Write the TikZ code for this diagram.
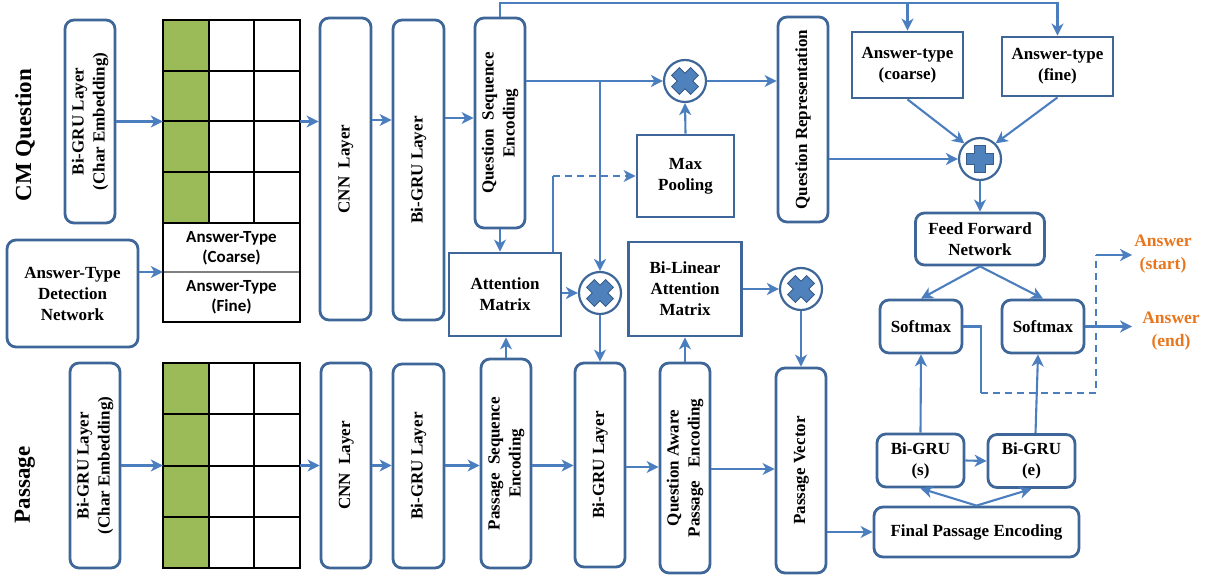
\documentclass[tikz,border=0pt]{standalone}
\usepackage{fontspec}
\setmainfont{Liberation Serif}
\newfontfamily\calib{Carlito}
\usetikzlibrary{arrows.meta,calc}
\definecolor{bcol}{RGB}{62,102,152}
\definecolor{lcol}{RGB}{74,126,190}
\definecolor{symf}{RGB}{79,129,189}
\definecolor{symd}{RGB}{56,93,138}
\definecolor{gfill}{RGB}{155,187,89}
\definecolor{ocol}{RGB}{232,118,30}
\newcommand{\vtext}[1]{\rotatebox{90}{\begin{tabular}{@{}c@{}}#1\end{tabular}}}
\begin{document}
\begin{tikzpicture}[x=1pt,y=-1pt,
  rbox/.style={draw=bcol, line width=2.8pt, rounded corners=9pt, fill=white, inner sep=1pt, align=center, font=\fontsize{17}{21}\selectfont\bfseries},
  sbox/.style={rbox, sharp corners},
  opc/.style={circle, draw=bcol, line width=2.2pt, fill=white, minimum size=42pt, inner sep=0pt},
  arr/.style={draw=lcol, line width=2.1pt, -{Stealth[length=12pt,width=12pt,inset=3.5pt]}},
  ln/.style={draw=lcol, line width=2.1pt},
  gridln/.style={draw=black, line width=1.2pt},
  gtext/.style={font=\calib\bfseries\fontsize{17}{20}\selectfont, align=center, inner sep=0pt},
  lab/.style={font=\fontsize{23}{26}\selectfont\bfseries, rotate=90},
  otext/.style={font=\fontsize{17.5}{23}\selectfont\bfseries, text=ocol, align=center, inner sep=2pt},
  plussym/.pic={\filldraw[fill=symf, draw=symd, line width=0.9pt] (-5.5,-13.5) -- (5.5,-13.5) -- (5.5,-5.5) -- (13.5,-5.5) -- (13.5,5.5) -- (5.5,5.5) -- (5.5,13.5) -- (-5.5,13.5) -- (-5.5,5.5) -- (-13.5,5.5) -- (-13.5,-5.5) -- (-5.5,-5.5) -- cycle;}
]
\useasboundingbox (0,0) rectangle (1215,577);

% side labels
\node[lab] (lq) at (25,135) {CM Question};
\node[lab] (lp) at (25,485) {Passage};

% ---------- question row ----------
\node[rbox, minimum width=50pt, minimum height=203pt] (qchar) at (90,121.5) {\vtext{Bi-GRU Layer\\(Char Embedding)}};

\fill[gfill] (163,20) rectangle (209,223);
\draw[gridln] (163,20) rectangle (300,322);
\foreach \yy in {71,121,172,223} \draw[gridln] (163,\yy) -- (300,\yy);
\foreach \xx in {209,254} \draw[gridln] (\xx,20) -- (\xx,223);
\draw[gray, line width=1.2pt] (163.6,272) -- (299.4,272);
\node[gtext] (atcoarse) at (231.5,248) {Answer-Type\\(Coarse)};
\node[gtext] (atfine) at (231.5,297) {Answer-Type\\(Fine)};
\node[inner sep=0pt, minimum width=137pt, minimum height=302pt] (qgrid) at (231.5,171) {};

\node[rbox, minimum width=131pt, minimum height=107pt] (atdn) at (72.5,293.5) {Answer-Type\\Detection\\Network};

\node[rbox, minimum width=51pt, minimum height=302pt] (qcnn) at (345.5,169) {\vtext{CNN\ \ Layer}};
\node[rbox, minimum width=51pt, minimum height=300pt] (qbigru) at (418.5,170) {\vtext{Bi-GRU Layer}};
\node[rbox, minimum width=50pt, minimum height=210pt] (qse) at (500,123) {\vtext{Question\ \ Sequence\\Encoding}};
\node[sbox, minimum width=112pt, minimum height=83pt] (attn) at (505,294.5) {Attention\\Matrix};
\node[opc] (mul1) at (685,81) {};
\node[opc] (mul2) at (600,293) {};
\node[sbox, minimum width=97pt, minimum height=82pt] (maxpool) at (685.5,176) {Max\\Pooling};
\node[sbox, minimum width=113pt, minimum height=94pt] (bilin) at (685,289) {Bi-Linear\\Attention\\Matrix};
\node[opc] (mul3) at (801,289) {};
\node[rbox, minimum width=50pt, minimum height=205pt] (qrep) at (803,119.5) {\vtext{Question Representation}};
\node[sbox, minimum width=111pt, minimum height=66pt] (atc) at (907.5,65) {Answer-type\\(coarse)};
\node[sbox, minimum width=111pt, minimum height=59pt] (atf) at (1057.5,66.5) {Answer-type\\(fine)};
\node[opc] (plus) at (980,159) {};
\node[rbox, minimum width=129pt, minimum height=52pt] (ffn) at (980,239) {Feed Forward\\Network};
\node[rbox, minimum width=82pt, minimum height=53pt] (smL) at (921,326.5) {Softmax};
\node[rbox, minimum width=82pt, minimum height=53pt] (smR) at (1043,326.5) {Softmax};
\node[rbox, minimum width=87pt, minimum height=53pt] (bgs) at (920.5,460.5) {Bi-GRU\\(s)};
\node[rbox, minimum width=87pt, minimum height=53pt] (bge) at (1031.5,461) {Bi-GRU\\(e)};
\node[rbox, minimum width=205pt, minimum height=50pt] (fpe) at (976.5,532) {Final Passage Encoding};

\pic[rotate=45] at (mul1) {plussym};
\pic[rotate=45] at (mul2) {plussym};
\pic[rotate=45] at (mul3) {plussym};
\pic at (plus) {plussym};

\node[otext] (ans) at (1163,254) {Answer\\(start)};
\node[otext] (ane) at (1171,331) {Answer\\(end)};

% ---------- passage row ----------
\node[rbox, minimum width=50pt, minimum height=205pt] (pchar) at (95,465.5) {\vtext{Bi-GRU Layer\\(Char Embedding)}};
\fill[gfill] (163,363) rectangle (209,568);
\draw[gridln] (163,363) rectangle (300,568);
\foreach \yy in {414,466,517} \draw[gridln] (163,\yy) -- (300,\yy);
\foreach \xx in {209,254} \draw[gridln] (\xx,363) -- (\xx,568);
\node[inner sep=0pt, minimum width=137pt, minimum height=205pt] (pgrid) at (231.5,465.5) {};
\node[rbox, minimum width=50pt, minimum height=205pt] (pcnn) at (346,465.5) {\vtext{CNN\ \ Layer}};
\node[rbox, minimum width=51pt, minimum height=204pt] (pbigru) at (418.5,466) {\vtext{Bi-GRU Layer}};
\node[rbox, minimum width=50pt, minimum height=209pt] (pse) at (506,463.5) {\vtext{Passage\ \ Sequence\\Encoding}};
\node[rbox, minimum width=50pt, minimum height=204pt] (pbigru2) at (600,465) {\vtext{Bi-GRU Layer}};
\node[rbox, minimum width=50pt, minimum height=210pt] (qape) at (685,468) {\vtext{Question Aware\\Passage\ \ \ Encoding}};
\node[rbox, minimum width=50pt, minimum height=205pt] (pvec) at (801,470.5) {\vtext{Passage Vector}};

% ---------- connectors ----------
\draw[arr] (qchar.east) -- (qchar.east -| qgrid.west);
\draw[arr] (qchar.east -| qgrid.east) -- (qchar.east -| qcnn.west);
\draw[arr] (qcnn.east |- 0,120) -- (qbigru.west |- 0,120);
\draw[arr] (qbigru.east |- 0,118) -- (qse.west |- 0,118);
\draw[arr] (atdn.east |- 0,272) -- (qgrid.west |- 0,272);

\draw[arr] (qse.north) -- (qse.north |- 0,3) -| (atf.north);
\draw[arr] (atc.north |- 0,3) -- (atc.north);

\draw[arr] (qse.east |- mul1) -- (mul1.west);
\draw[arr] (mul2 |- mul1) -- (mul2.north);
\draw[arr] (mul1.east) -- (qrep.west |- mul1);
\draw[arr] (maxpool.north) -- (mul1.south);
\coordinate (dk) at (553,176);
\draw[ln] (dk |- attn.north) -- (dk);
\draw[arr, dash pattern=on 7pt off 5pt] (dk) -- (maxpool.west);
\draw[arr] (qse.south) -- (qse.south |- attn.north);
\draw[arr] (attn.east |- mul2) -- (mul2.west);
\draw[arr] (mul2.south) -- (pbigru2.north);
\draw[arr] (pse.north) -- (pse.north |- attn.south);
\draw[arr] (qape.north) -- (bilin.south);
\draw[arr] (bilin.east) -- (mul3.west);
\draw[arr] (mul3.south) -- (pvec.north);

\draw[arr] (qrep.east |- plus) -- (plus.west);
\draw[arr] (atc.south) -- (plus.north west);
\draw[arr] (atf.south) -- (plus.north east);
\draw[arr] (plus.south) -- (ffn.north);
\draw[arr] (ffn.south) -- (smL.north);
\draw[arr] (ffn.south) -- (smR.north);
\draw[arr] (bgs.north) -- (smL.south);
\draw[arr] ($(bge.north)+(4,0)$) -- ($(smR.south)+(-5,0)$);
\draw[arr] (bgs.east) -- (bge.west);
\draw[arr] (fpe.north) -- (bgs.south);
\draw[arr] (fpe.north) -- (bge.south);
\draw[arr] (pvec.east |- fpe.west) -- (fpe.west);

\coordinate (c1) at (981,393);
\coordinate (c2) at (1096,393);
\coordinate (c3) at (1096,255);
\draw[ln] (smL.east) -| (c1);
\draw[ln, dash pattern=on 7pt off 5pt] (c1) -- (c2) -- (c3);
\draw[arr] (c3) -- (c3 -| ans.west);
\draw[arr] (smR.east) -- (smR.east -| ans.west);

\draw[arr] (pchar.east) -- (pchar.east -| pgrid.west);
\draw[arr] (pchar.east -| pgrid.east) -- (pchar.east -| pcnn.west);
\draw[arr] (pcnn.east |- pchar.east) -- (pbigru.west |- pchar.east);
\draw[arr] (pbigru.east |- pchar.east) -- (pse.west |- pchar.east);
\draw[arr] (pse.east |- pchar.east) -- (pbigru2.west |- pchar.east);
\draw[arr] (pbigru2.east |- 0,467) -- (qape.west |- 0,467);
\draw[arr] (qape.east |- 0,469) -- (pvec.west |- 0,469);
\end{tikzpicture}
\end{document}
